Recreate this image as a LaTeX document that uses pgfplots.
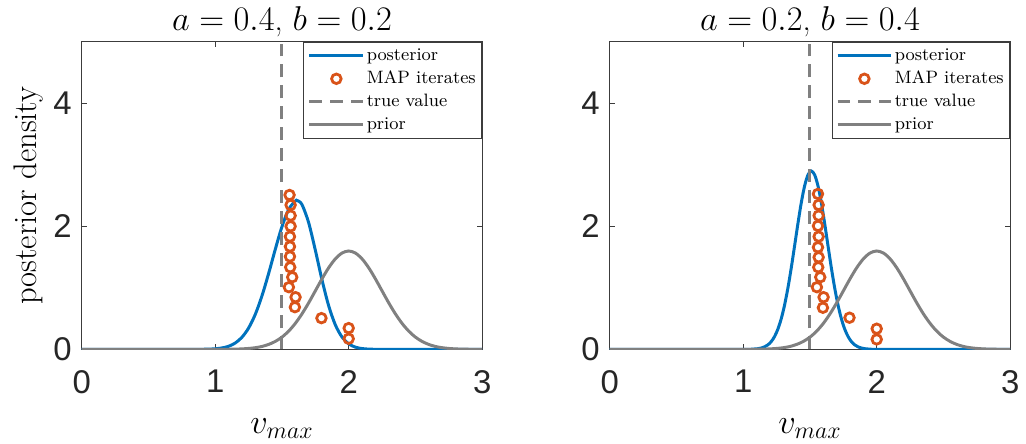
\documentclass[border=0pt]{standalone}
\usepackage{fontspec}
\usepackage{pgfplots}
\pgfplotsset{compat=1.18}
\newfontfamily\ticksans{Liberation Sans}

\definecolor{postblue}{RGB}{0,114,189}
\definecolor{maporange}{RGB}{217,83,25}
\definecolor{midgray}{RGB}{128,128,128}
\definecolor{axiscol}{RGB}{60,60,60}

% curves
\pgfplotstableread{
x y
0 0
0.85 0.0005
0.9 0.0014
0.95 0.0038
1.0 0.0096
1.05 0.023
1.1 0.050
1.15 0.103
1.2 0.196
1.25 0.346
1.3 0.568
1.35 0.868
1.4 1.232
1.45 1.626
1.5 1.995
1.55 2.275
1.6 2.412
1.615 2.42
1.65 2.355
1.7 2.061
1.75 1.614
1.8 1.131
1.85 0.709
1.9 0.398
1.95 0.200
2.0 0.090
2.05 0.036
2.1 0.013
2.15 0.0042
2.2 0.0012
2.25 0.0003
3 0
}\postA

\pgfplotstableread{
x y
0 0
1.01 0.0005
1.06 0.0026
1.11 0.011
1.135 0.022
1.16 0.041
1.185 0.074
1.21 0.127
1.235 0.210
1.26 0.331
1.285 0.500
1.31 0.723
1.335 1.001
1.36 1.328
1.385 1.686
1.41 2.049
1.435 2.386
1.46 2.659
1.485 2.838
1.51 2.9
1.535 2.838
1.56 2.659
1.585 2.386
1.61 2.049
1.635 1.686
1.66 1.328
1.685 1.001
1.71 0.723
1.735 0.500
1.76 0.331
1.785 0.210
1.81 0.127
1.835 0.074
1.86 0.041
1.885 0.022
1.91 0.011
1.96 0.0026
2.01 0.0005
3 0
}\postB

\pgfplotstableread{
x y
0 0
0.9 0
1.0 0.0004
1.05 0.0009
1.1 0.0019
1.15 0.0039
1.2 0.0077
1.25 0.015
1.3 0.027
1.35 0.047
1.4 0.080
1.45 0.129
1.5 0.199
1.55 0.296
1.6 0.422
1.65 0.577
1.7 0.756
1.75 0.951
1.8 1.147
1.85 1.327
1.9 1.472
1.95 1.567
2.0 1.6
2.05 1.567
2.1 1.472
2.15 1.327
2.2 1.147
2.25 0.951
2.3 0.756
2.35 0.577
2.4 0.422
2.45 0.296
2.5 0.199
2.55 0.129
2.6 0.080
2.65 0.047
2.7 0.027
2.75 0.015
2.8 0.0077
2.85 0.0039
2.9 0.0019
2.95 0.0009
3.0 0.0004
}\prior

\pgfplotstableread{
x y
2.000 0.173
2.000 0.346
1.796 0.508
1.597 0.686
1.602 0.849
1.552 1.011
1.577 1.174
1.562 1.336
1.560 1.510
1.560 1.672
1.560 1.834
1.565 2.002
1.565 2.175
1.565 2.349
1.557 2.511
}\mapA

\pgfplotstableread{
x y
2.000 0.162
2.000 0.336
1.796 0.515
1.597 0.677
1.602 0.849
1.552 1.011
1.577 1.174
1.562 1.336
1.565 1.498
1.560 1.661
1.565 1.834
1.560 2.008
1.565 2.175
1.565 2.349
1.560 2.528
}\mapB

\pgfplotsset{
  legend image code/.code={\draw[mark repeat=2,mark phase=2,#1]
    plot coordinates {(0pt,0pt) (13.5pt,0pt) (27pt,0pt)};},
  panel/.style={
    scale only axis, width=201pt, height=154.3pt,
    xmin=0, xmax=3, ymin=0, ymax=5,
    xtick={0,1,2,3}, ytick={0,2,4},
    tick align=inside, major tick length=2.5pt,
    axis line style={axiscol, line width=0.5pt},
    every tick/.style={axiscol, line width=0.5pt},
    tick label style={font=\fontsize{16.5}{18}\selectfont\ticksans,
      text=black!85, /pgf/number format/assume math mode=true},
    xticklabel style={yshift=-7pt},
    yticklabel style={xshift=-1.5pt},
    title style={font=\fontsize{16.4}{18}\selectfont, yshift=-7pt},
    label style={font=\fontsize{16.4}{18}\selectfont},
    ylabel shift=-1.5pt,
    xlabel={$v_{max}$},
    xlabel style={at={(axis description cs:0.5,0)}, anchor=base,
      inner sep=0pt, yshift=-42pt},
    legend style={at={(1,1)}, anchor=north east, draw=axiscol,
      line width=0.5pt, fill=white,
      font=\fontsize{9}{10}\selectfont, inner xsep=2pt, inner ysep=1pt,
      nodes={inner sep=1pt, text height=7pt, text depth=2.5pt}},
    legend cell align=left,
  },
  post/.style={postblue, line width=1.5pt, smooth, mark=none},
  iter/.style={only marks, mark=o, mark size=2.4pt,
    mark options={maporange, line width=1.4pt}},
  truev/.style={midgray, line width=1.5pt, dash pattern=on 6.5pt off 4pt, mark=none},
  prio/.style={midgray, line width=1.5pt, smooth, mark=none},
}

\begin{document}
\begin{tikzpicture}
\begin{axis}[panel, at={(41pt,47pt)}, anchor=south west,
  title={$a=0.4$, $b=0.2$}, ylabel={posterior density}]
\addplot[post] table {\postA};
\addplot[iter] table {\mapA};
\addplot[truev] coordinates {(1.5,0) (1.5,5)};
\addplot[prio] table {\prior};
\legend{posterior, MAP iterates, true value, prior}
\end{axis}
\begin{axis}[panel, at={(306pt,47pt)}, anchor=south west,
  title={$a=0.2$, $b=0.4$}]
\addplot[post] table {\postB};
\addplot[iter] table {\mapB};
\addplot[truev] coordinates {(1.5,0) (1.5,5)};
\addplot[prio] table {\prior};
\legend{posterior, MAP iterates, true value, prior}
\end{axis}
\path (0,0) rectangle (513pt,221.5pt);
\end{tikzpicture}
\end{document}
